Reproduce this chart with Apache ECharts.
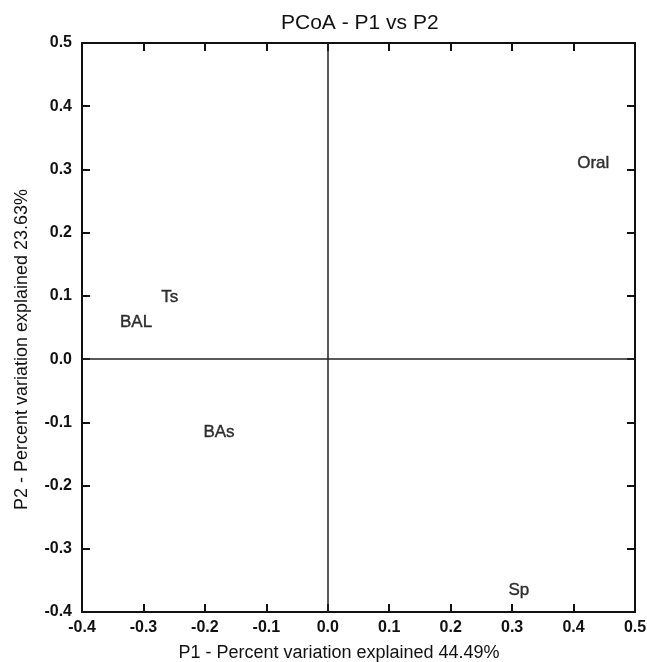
<!DOCTYPE html>
<html>
<head>
<meta charset="utf-8">
<script src="https://cdn.jsdelivr.net/npm/echarts@6/dist/echarts.min.js"></script>
<style>
  html, body { margin: 0; padding: 0; background: #fff; }
  #main { width: 647px; height: 662px; }
</style>
</head>
<body>
<div id="main"></div>
<script>
// sample names and their PCoA coordinates (P1, P2)
const sampleNames = ['Oral', 'Ts', 'BAL', 'BAs', 'Sp']
const p1Values = [0.432, -0.257, -0.312, -0.177, 0.311]
const p2Values = [0.310, 0.097, 0.058, -0.115, -0.366]

const FONT = '"Liberation Sans", Arial, Helvetica, sans-serif'

let myChart = echarts.init(document.getElementById('main'))

let points = sampleNames.map((name, i) => {
  return { name: name, value: [p1Values[i], p2Values[i]] }
})

const axisLine = { show: true, onZero: false, lineStyle: { color: '#111', width: 2 } }
const axisTick = { show: true, inside: true, length: 8, lineStyle: { color: '#111', width: 2 } }
const tickLabel = { color: '#111', fontSize: 16, fontWeight: 'bold', fontFamily: FONT }

myChart.setOption({
  animation: false,
  title: {
    text: 'PCoA - P1 vs P2',
    left: 276,
    top: 8,
    textStyle: { fontSize: 21, fontWeight: 'normal', color: '#111', fontFamily: FONT }
  },
  grid: { left: 82, right: 12, top: 43, bottom: 50, outerBoundsMode: 'none' },
  xAxis: [
    {
      type: 'value',
      min: -0.4,
      max: 0.5,
      interval: 0.1,
      position: 'bottom',
      name: 'P1 - Percent variation explained 44.49%',
      nameLocation: 'middle',
      nameGap: 32,
      nameTextStyle: { fontSize: 18, color: '#111', fontFamily: FONT, padding: [0, 39, 0, 0] },
      axisLine: axisLine,
      axisTick: axisTick,
      axisLabel: Object.assign({ margin: 8, formatter: v => v.toFixed(1) }, tickLabel),
      splitLine: { show: false }
    },
    {
      type: 'value',
      min: -0.4,
      max: 0.5,
      interval: 0.1,
      position: 'top',
      axisLine: axisLine,
      axisTick: axisTick,
      axisLabel: { show: false },
      splitLine: { show: false }
    }
  ],
  yAxis: [
    {
      type: 'value',
      min: -0.4,
      max: 0.5,
      interval: 0.1,
      position: 'left',
      name: 'P2 - Percent variation explained 23.63%',
      nameLocation: 'middle',
      nameGap: 51,
      nameTextStyle: { fontSize: 18, color: '#111', fontFamily: FONT, padding: [0, 44, 0, 0] },
      axisLine: axisLine,
      axisTick: axisTick,
      axisLabel: Object.assign({ margin: 10, formatter: v => v.toFixed(1) }, tickLabel),
      splitLine: { show: false }
    },
    {
      type: 'value',
      min: -0.4,
      max: 0.5,
      interval: 0.1,
      position: 'right',
      axisLine: axisLine,
      axisTick: axisTick,
      axisLabel: { show: false },
      splitLine: { show: false }
    }
  ],
  series: [
    {
      type: 'scatter',
      data: points,
      symbolSize: 0,
      itemStyle: { color: '#000' },
      label: {
        show: true,
        position: 'inside',
        formatter: '{b}',
        fontSize: 17,
        color: '#000',
        textBorderColor: '#000',
        textBorderWidth: 0.4,
        fontFamily: FONT
      },
      markLine: {
        silent: true,
        symbol: 'none',
        label: { show: false },
        lineStyle: { color: '#222', width: 1.5, type: 'solid' },
        data: [{ xAxis: 0 }, { yAxis: 0 }]
      }
    }
  ]
})
</script>
</body>
</html>
